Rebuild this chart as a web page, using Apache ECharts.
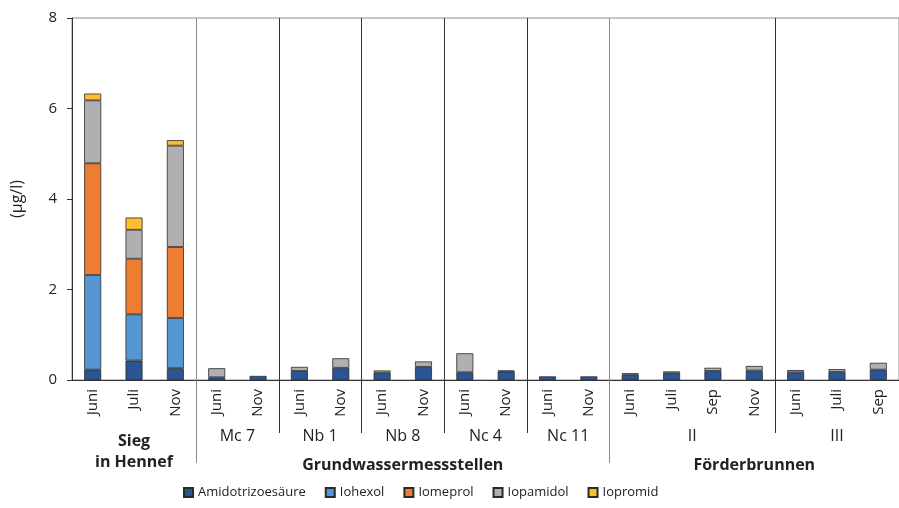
<!DOCTYPE html>
<html>
<head>
<meta charset="utf-8">
<script src="https://cdn.jsdelivr.net/npm/echarts@6/dist/echarts.min.js"></script>
<style>
  html, body { margin: 0; padding: 0; background: #fff; }
  #chart { width: 899px; height: 508px; }
</style>
</head>
<body>
<div id="chart"></div>
<script>
// Sampling months per measuring point
const months = ['Juni', 'Juli', 'Nov',
                'Juni', 'Nov', 'Juni', 'Nov', 'Juni', 'Nov', 'Juni', 'Nov', 'Juni', 'Nov',
                'Juni', 'Juli', 'Sep', 'Nov', 'Juni', 'Juli', 'Sep'];

// Contrast agent concentrations (µg/l)
const amidotrizoesaeure = [0.23, 0.43, 0.26, 0.06, 0.09, 0.20, 0.27, 0.16, 0.29, 0.17, 0.19, 0.08, 0.08, 0.12, 0.15, 0.20, 0.21, 0.17, 0.18, 0.23];
const iohexol           = [2.09, 1.02, 1.11, 0, 0, 0, 0, 0, 0, 0, 0, 0, 0, 0, 0, 0, 0, 0, 0, 0];
const iomeprol          = [2.47, 1.23, 1.57, 0, 0, 0, 0, 0, 0, 0, 0, 0, 0, 0, 0, 0, 0, 0, 0, 0];
const iopamidol         = [1.39, 0.64, 2.24, 0.20, 0, 0.09, 0.21, 0.05, 0.12, 0.42, 0.02, 0, 0, 0.03, 0.04, 0.07, 0.10, 0.05, 0.06, 0.15];
const iopromid          = [0.15, 0.27, 0.12, 0, 0, 0, 0, 0, 0, 0, 0, 0, 0, 0, 0, 0, 0, 0, 0, 0];

// Measuring points (second label row) and site types (third label row)
const points = [
  { name: 'Mc 7', from: 3, to: 4 },
  { name: 'Nb 1', from: 5, to: 6 },
  { name: 'Nb 8', from: 7, to: 8 },
  { name: 'Nc 4', from: 9, to: 10 },
  { name: 'Nc 11', from: 11, to: 12 },
  { name: 'II', from: 13, to: 16 },
  { name: 'III', from: 17, to: 19 }
];
const sites = [
  { name: 'Sieg\nin Hennef', from: 0, to: 2 },
  { name: 'Grundwassermessstellen', from: 3, to: 12 },
  { name: 'Förderbrunnen', from: 13, to: 19 }
];
const pointStarts = [3, 5, 7, 9, 11, 13, 17];
const siteStarts = [3, 13];

const FONT = '"Open Sans", Lato, sans-serif';
const colors = ['#2b5592', '#5597d3', '#ed7d31', '#b0b0b3', '#fdbf2d'];

const seriesDefs = [
  ['Amidotrizoesäure', amidotrizoesaeure],
  ['Iohexol', iohexol],
  ['Iomeprol', iomeprol],
  ['Iopamidol', iopamidol],
  ['Iopromid', iopromid]
];

const chart = echarts.init(document.getElementById('chart'), null, { renderer: 'canvas' });

const hiddenAxis = {
  type: 'category',
  data: months,
  position: 'bottom',
  boundaryGap: true,
  axisLine: { show: false },
  axisLabel: { show: false }
};

chart.setOption({
  animation: false,
  color: colors,
  textStyle: { fontFamily: FONT },
  grid: {
    left: 72, top: 18, width: 837, height: 362,
    show: true, borderColor: '#8c8c8c', borderWidth: 1
  },
  legend: {
    bottom: 4,
    left: 178,
    icon: 'rect',
    itemWidth: 9,
    itemHeight: 9,
    itemGap: 19,
    textStyle: { fontSize: 13, color: '#222', fontFamily: FONT }
  },
  xAxis: [
    {
      type: 'category',
      data: months,
      position: 'bottom',
      boundaryGap: true,
      axisLine: { show: true, lineStyle: { color: '#333', width: 1 } },
      axisTick: { show: false },
      axisLabel: { rotate: 90, margin: 9, fontSize: 15, color: '#222', fontFamily: FONT, interval: 0 }
    },
    Object.assign({}, hiddenAxis, {
      axisTick: {
        show: true, length: 53, inside: false,
        interval: (i) => pointStarts.includes(i) && !siteStarts.includes(i),
        lineStyle: { color: '#333', width: 1 }
      },
      splitLine: {
        show: true,
        interval: (i) => pointStarts.includes(i) && !siteStarts.includes(i),
        lineStyle: { color: '#333', width: 1 }
      }
    }),
    Object.assign({}, hiddenAxis, {
      axisTick: {
        show: true, length: 83, inside: false,
        interval: (i) => siteStarts.includes(i),
        lineStyle: { color: '#8c8c8c', width: 1 }
      },
      splitLine: {
        show: true,
        interval: (i) => siteStarts.includes(i),
        lineStyle: { color: '#8c8c8c', width: 1 }
      }
    })
  ],
  yAxis: {
    type: 'value',
    min: 0, max: 8, interval: 2,
    name: '(µg/l)',
    nameLocation: 'middle',
    nameRotate: 90,
    nameGap: 47,
    nameTextStyle: { fontSize: 16, color: '#222', fontFamily: FONT },
    axisLine: { show: true, lineStyle: { color: '#333', width: 1 } },
    axisTick: { show: true, length: 5, lineStyle: { color: '#333' } },
    axisLabel: { fontSize: 15, color: '#222', margin: 15, fontFamily: FONT },
    splitLine: { show: false }
  },
  series: seriesDefs.map(([name, values]) => ({
    name: name,
    type: 'bar',
    stack: 'total',
    barWidth: 17,
    xAxisIndex: 0,
    itemStyle: { borderColor: '#2a2a2a', borderWidth: 0.8 },
    data: values.map(v => (v > 0 ? v : '-'))
  }))
});

// Group captions placed under the axis, centred on their categories
function centre(g) {
  const a = chart.convertToPixel({ xAxisIndex: 0 }, g.from);
  const b = chart.convertToPixel({ xAxisIndex: 0 }, g.to);
  return (a + b) / 2;
}
const graphics = [];
points.forEach(p => {
  graphics.push({
    type: 'text', x: centre(p), y: 436,
    style: { text: p.name, font: '16px ' + FONT, fill: '#222', textAlign: 'center', textVerticalAlign: 'middle', align: 'center', verticalAlign: 'middle' }
  });
});
sites.forEach((s, i) => {
  graphics.push({
    type: 'text', x: centre(s), y: i === 0 ? 452 : 465,
    style: { text: s.name, font: 'bold 16px ' + FONT, fill: '#222', lineHeight: 21, textAlign: 'center', textVerticalAlign: 'middle', align: 'center', verticalAlign: 'middle' }
  });
});
chart.setOption({ graphic: graphics });
</script>
</body>
</html>
